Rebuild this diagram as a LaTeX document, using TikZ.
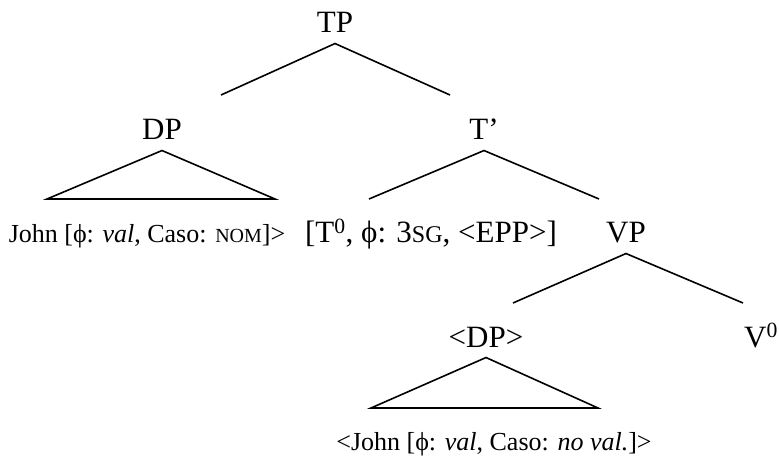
\documentclass[tikz,border=0pt]{standalone}
\usepackage{fontspec}
\setmainfont{Liberation Serif}
\newcommand{\scsmall}[1]{{\fontsize{20}{24}\selectfont #1}}
\newcommand{\scbig}[1]{{\fontsize{24}{28}\selectfont #1}}
\newcommand{\feat}{ϕ}

\begin{document}
\begin{tikzpicture}[
                x=1pt, y=-1pt,
                font=\fontsize{31}{36}\selectfont,
                cat/.style={anchor=base, text depth=7pt},
                lex/.style={anchor=base, inner sep=0pt, font=\fontsize{26}{30}\selectfont},
                branch/.style={line width=1.6pt, line join=miter}
            ]
                \useasboundingbox (0,0) rectangle (779,457);
                \node[cat] (tp) at (335,33) {TP};
                \node[cat] (dp) at (162,140) {DP};
                \node[cat] (tbar) at (484,140) {T’};
                \node[cat] (tzero) at (431,243) {[T\textsuperscript{0}, \feat: 3\scbig{SG}, <EPP>]};
                \node[cat] (vp) at (626,243) {VP};
                \node[cat] (dptrace) at (486,347) {<DP>};
                \node[cat] (vzero) at (761,347) {V\textsuperscript{0}};
                \node[lex] (john) at (147,243) {John [\feat: \textit{val}, Caso: \scsmall{NOM}]>};
                \node[lex] (johntrace) at (494,450) {<John [\feat: \textit{val}, Caso: \textit{no val.}]>};
                \coordinate (tp-l) at (221,95);
                \coordinate (tp-r) at (450,95);
                \coordinate (dp-l) at (47,199);
                \coordinate (dp-r) at (275,199);
                \coordinate (tbar-l) at (369,199);
                \coordinate (tbar-r) at (599,199);
                \coordinate (vp-l) at (513,303);
                \coordinate (vp-r) at (743,303);
                \coordinate (dptrace-l) at (371,408);
                \coordinate (dptrace-r) at (598,408);
                \draw[branch] (tp-l) -- (tp.south) -- (tp-r);
                \draw[branch] (dp-l) -- (dp.south) -- (dp-r) -- cycle;
                \draw[branch] (tbar-l) -- (tbar.south) -- (tbar-r);
                \draw[branch] (vp-l) -- (vp.south) -- (vp-r);
                \draw[branch] (dptrace-l) -- (dptrace.south) -- (dptrace-r) -- cycle;
            \end{tikzpicture}
\end{document}
